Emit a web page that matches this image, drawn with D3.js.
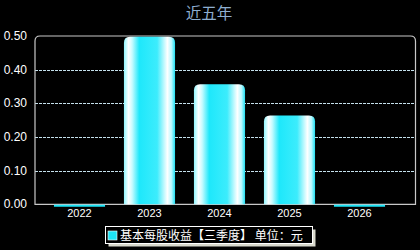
<!DOCTYPE html>
<html>
<head>
<meta charset="utf-8">
<script src="https://cdn.jsdelivr.net/npm/d3@7"></script>
<style>
  html, body { margin: 0; padding: 0; background: #000; }
  svg { display: block; }
</style>
</head>
<body>
<svg id="chart" width="420" height="250"></svg>
<script>
// 基本每股收益 (三季度), 元
const years = ["2022", "2023", "2024", "2025", "2026"];
const eps = [-0.006, 0.498, 0.357, 0.264, -0.006];
const yTicks = [0, 0.1, 0.2, 0.3, 0.4, 0.5];
const titleText = "近五年";
const legendText = "基本每股收益【三季度】 单位：元";

const svg = d3.select("#chart");
const W = 420, H = 250;
const plot = { left: 35, right: 415.5, top: 36, bottom: 204.3 };

svg.append("rect").attr("width", W).attr("height", H).attr("fill", "#000");

const x = d3.scaleBand().domain(years).range([44.5, 394.5]).paddingInner(0.27).paddingOuter(0.135);
const y = d3.scaleLinear().domain([0, 0.5]).range([plot.bottom, plot.top]);

// gradient for bars
const defs = svg.append("defs");
const grad = defs.append("linearGradient").attr("id", "barGrad")
    .attr("x1", "0%").attr("x2", "100%").attr("y1", "0%").attr("y2", "0%");
[[0, "#8ff6ff"], [0.09, "#ffffff"], [0.16, "#c8fbff"], [0.3, "#1ee8fb"], [0.65, "#3cecfc"],
 [0.85, "#ffffff"], [0.93, "#b8f8ff"], [1, "#1ee0f4"]]
  .forEach(([o, c]) => grad.append("stop").attr("offset", o).attr("stop-color", c));

// grid lines
svg.append("g").selectAll("line").data(yTicks.filter(d => d > 0 && d < 0.5)).enter().append("line")
    .attr("x1", plot.left).attr("x2", plot.right)
    .attr("y1", d => Math.round(y(d)) + 0.5).attr("y2", d => Math.round(y(d)) + 0.5)
    .attr("stroke", "#c4e0ec").attr("stroke-width", 1).attr("stroke-dasharray", "3,1");

// plot frame (rounded top corners)
const r = 5;
svg.append("path")
    .attr("d", `M${plot.left},${plot.bottom} L${plot.left},${plot.top + r} Q${plot.left},${plot.top} ${plot.left + r},${plot.top}
      L${plot.right - r},${plot.top} Q${plot.right},${plot.top} ${plot.right},${plot.top + r} L${plot.right},${plot.bottom} Z`)
    .attr("fill", "none").attr("stroke", "#c8c8c8").attr("stroke-width", 1.2);

// bars
function barPath(d) {
  const x0 = x(d.year), w = x.bandwidth();
  const y0 = y(0), y1 = y(d.value);
  if (d.value <= 0) {
    return `M${x0},${y0 + 0.5} h${w} V${y1 + 0.5} h${-w} Z`;
  }
  const rr = Math.min(6, (y0 - y1) / 2);
  return `M${x0},${y0} V${y1 + rr} Q${x0},${y1} ${x0 + rr},${y1} H${x0 + w - rr} Q${x0 + w},${y1} ${x0 + w},${y1 + rr} V${y0} Z`;
}
const data = years.map((yr, i) => ({ year: yr, value: eps[i] }));
svg.append("g").selectAll("path").data(data).enter().append("path")
    .attr("d", barPath)
    .attr("fill", d => d.value <= 0 ? "#1ee4f6" : "url(#barGrad)");

// y axis labels
svg.append("g").selectAll("text").data(yTicks).enter().append("text")
    .attr("x", 27).attr("y", d => y(d) + 4)
    .attr("text-anchor", "end")
    .attr("font-family", "Liberation Sans, Arial, sans-serif").attr("font-size", 12)
    .attr("fill", "#fff")
    .text(d => d3.format(".2f")(d));

// x axis labels
svg.append("g").selectAll("text").data(years).enter().append("text")
    .attr("x", d => x(d) + x.bandwidth() / 2).attr("y", 217)
    .attr("text-anchor", "middle")
    .attr("font-family", "Liberation Sans, Arial, sans-serif").attr("font-size", 11)
    .attr("fill", "#fff")
    .text(d => d);

// title
svg.append("text").attr("x", 209).attr("y", 18.5)
    .attr("text-anchor", "middle")
    .attr("font-family", "Noto Sans CJK SC, sans-serif").attr("font-size", 15.5)
    .attr("fill", "#8eaed0")
    .text(titleText);

// legend
const lg = svg.append("g");
lg.append("rect").attr("x", 108.5).attr("y", 229.5).attr("width", 207).attr("height", 17).attr("fill", "#d8d8cc");
lg.append("rect").attr("x", 105.5).attr("y", 226.5).attr("width", 207).attr("height", 17)
    .attr("fill", "#000").attr("stroke", "#fff").attr("stroke-width", 1);
lg.append("rect").attr("x", 108).attr("y", 231).attr("width", 9).attr("height", 9)
    .attr("fill", "#1ee4f6").attr("stroke", "#fff").attr("stroke-width", 0.6);
lg.append("text").attr("x", 120).attr("y", 240)
    .attr("font-family", "Noto Sans CJK SC, sans-serif").attr("font-size", 12)
    .attr("fill", "#fff")
    .text(legendText);
</script>
</body>
</html>
